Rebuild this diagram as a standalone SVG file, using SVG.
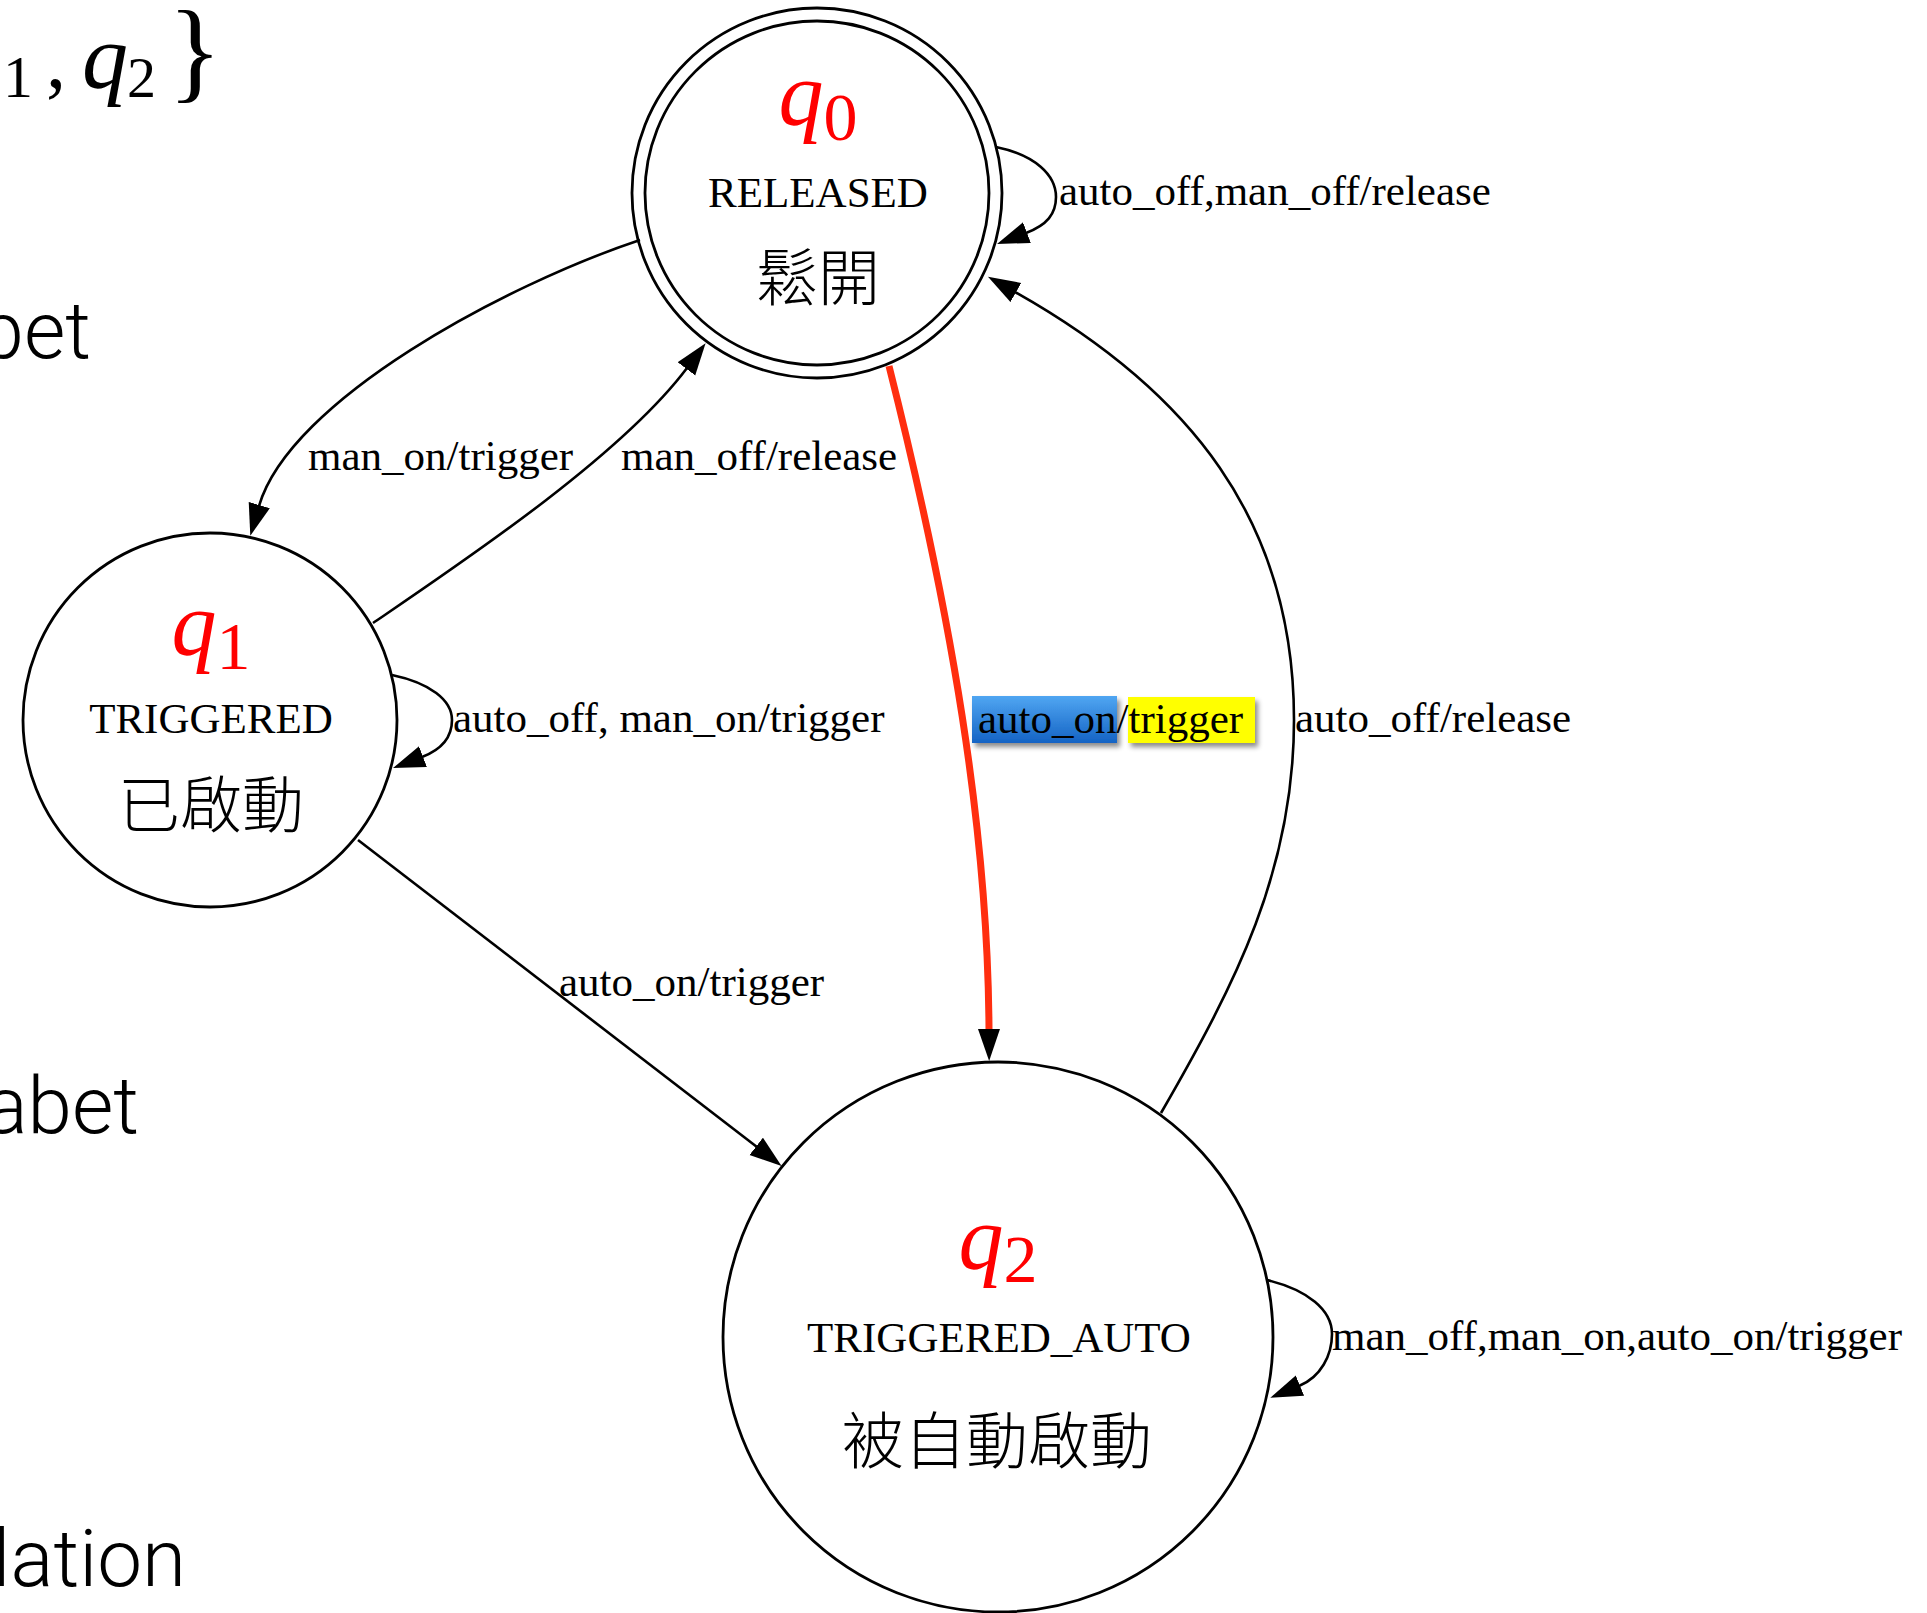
<svg xmlns="http://www.w3.org/2000/svg" width="1927" height="1613" viewBox="0 0 1927 1613">
  <style>
    .node { fill: none; stroke: #000; stroke-width: 2.8; }
    .edge { fill: none; stroke: #000; stroke-width: 2.6; }
    .hot { fill: none; stroke: #ff2e0f; stroke-width: 7; }
    .lbl { font-family: "Liberation Serif", "Times New Roman", serif; font-size: 43px; fill: #000; }
    .name { font-family: "Liberation Serif", "Times New Roman", serif; font-size: 43px; fill: #000; text-anchor: middle; }
    .cjk { font-family: "Noto Sans CJK TC", "Noto Sans CJK SC", sans-serif; font-weight: 300; font-size: 62px; fill: #000; text-anchor: middle; }
    .qid { font-family: "Liberation Serif", "Times New Roman", serif; fill: #ff0000; text-anchor: middle; }
    .math { font-family: "Liberation Serif", "Times New Roman", serif; fill: #000; }
    .slide { font-family: Roboto, Lato, "Liberation Sans", sans-serif; font-weight: 300; font-size: 80px; fill: #000; text-anchor: end; }
  </style>
  <defs>
    <marker id="arrow" markerUnits="userSpaceOnUse" markerWidth="34" markerHeight="24" refX="1" refY="11" orient="auto" viewBox="0 0 34 24">
      <path d="M0,0 L32,11 L0,22 Z" fill="#000"/>
    </marker>
    <linearGradient id="blueFill" x1="0" y1="0" x2="0" y2="1">
      <stop offset="0" stop-color="#50a6f2"/>
      <stop offset="1" stop-color="#1463c4"/>
    </linearGradient>
    <filter id="shadow" x="-10%" y="-20%" width="130%" height="160%">
      <feDropShadow dx="3" dy="4" stdDeviation="2.5" flood-color="#000" flood-opacity="0.45"/>
    </filter>
  </defs>

  <rect width="1927" height="1613" fill="#fff"/>

  <!-- slide text running in from the left edge -->
  <g id="slide-text">
    <text class="math" x="3" y="97" font-size="60">1</text>
    <text class="math" x="46" y="87" font-size="80">,</text>
    <text class="math" x="82" y="88" font-size="92" font-style="italic">q</text>
    <text class="math" x="127" y="97" font-size="58">2</text>
    <text class="math" x="168" y="88" font-size="112">}</text>
    <text class="slide" x="91" y="358">bet</text>
    <text class="slide" x="139" y="1133">abet</text>
    <text class="slide" x="186" y="1586">lation</text>
  </g>

  <!-- states -->
  <g id="q0">
    <circle class="node" cx="817" cy="193" r="185"/>
    <circle class="node" cx="817" cy="193" r="172"/>
    <text class="qid" x="818" y="125"><tspan font-style="italic" font-size="90">q</tspan><tspan font-size="68" dy="15">0</tspan></text>
    <text class="name" x="818" y="207">RELEASED</text>
    <text class="cjk" x="818" y="301">鬆開</text>
  </g>

  <g id="q1">
    <circle class="node" cx="210" cy="720" r="187"/>
    <text class="qid" x="211" y="655"><tspan font-style="italic" font-size="90">q</tspan><tspan font-size="68" dy="14">1</tspan></text>
    <text class="name" x="211" y="733">TRIGGERED</text>
    <text class="cjk" x="211" y="828">已啟動</text>
  </g>

  <g id="q2">
    <circle class="node" cx="998" cy="1337" r="275"/>
    <text class="qid" x="998" y="1269"><tspan font-style="italic" font-size="90">q</tspan><tspan font-size="68" dy="13">2</tspan></text>
    <text class="name" x="999" y="1352">TRIGGERED_AUTO</text>
    <text class="cjk" x="997" y="1464">被自動啟動</text>
  </g>

  <!-- transitions -->
  <g id="edges">
    <!-- q0 self loop -->
    <path class="edge" d="M996,147 C1035,155 1056,175 1056,197 C1056,214 1047,225 1026,233" marker-end="url(#arrow)"/>
    <text class="lbl" x="1059" y="205">auto_off,man_off/release</text>

    <!-- q0 -> q1 -->
    <path class="edge" d="M640,240 C505,285 290,400 259,506" marker-end="url(#arrow)"/>
    <text class="lbl" x="308" y="470">man_on/trigger</text>

    <!-- q1 -> q0 -->
    <path class="edge" d="M373,623 C464,561 621,456 687,368" marker-end="url(#arrow)"/>
    <text class="lbl" x="621" y="470">man_off/release</text>

    <!-- q1 self loop -->
    <path class="edge" d="M392,675 C430,683 452,700 452,720 C452,737 443,749 422,757" marker-end="url(#arrow)"/>
    <text class="lbl" x="453" y="732">auto_off, man_on/trigger</text>

    <!-- q0 -> q2, highlighted -->
    <path class="hot" d="M889,366 C952,616 988,830 989,1030" marker-end="url(#arrow)"/>
    <g id="hot-label">
      <rect x="972" y="696" width="145" height="47" fill="url(#blueFill)" filter="url(#shadow)"/>
      <rect x="1128" y="697" width="127" height="46" fill="#ffff00" filter="url(#shadow)"/>
      <text class="lbl" x="978" y="733">auto_on/trigger</text>
    </g>

    <!-- q2 -> q0 -->
    <path class="edge" d="M1161,1113 C1236,983 1294,870 1294,720 C1294,520 1189,390 1015,292" marker-end="url(#arrow)"/>
    <text class="lbl" x="1295" y="732">auto_off/release</text>

    <!-- q1 -> q2 -->
    <path class="edge" d="M358,840 L757,1147" marker-end="url(#arrow)"/>
    <text class="lbl" x="559" y="996">auto_on/trigger</text>

    <!-- q2 self loop -->
    <path class="edge" d="M1267,1280 C1308,1290 1332,1310 1332,1334 C1332,1355 1321,1377 1299,1386" marker-end="url(#arrow)"/>
    <text class="lbl" x="1332" y="1350">man_off,man_on,auto_on/trigger</text>
  </g>
</svg>
